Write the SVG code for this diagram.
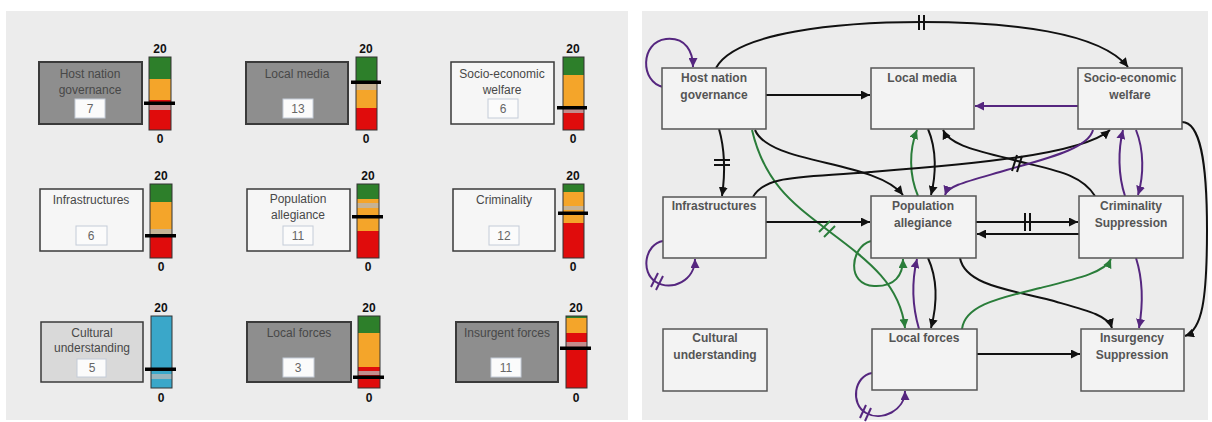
<svg xmlns="http://www.w3.org/2000/svg" width="1212" height="422" viewBox="0 0 1212 422">
<style>
.panel{fill:#ececec}
.lbl{font-family:"Liberation Sans",Arial,sans-serif;font-size:12px;fill:#484848;text-anchor:middle}
.val{font-family:"Liberation Sans",Arial,sans-serif;font-size:12px;fill:#666;text-anchor:middle}
.sc{font-family:"Liberation Sans",Arial,sans-serif;font-size:12px;font-weight:bold;fill:#111;text-anchor:middle}
.bl{font-family:"Liberation Sans",Arial,sans-serif;font-size:12px;font-weight:bold;fill:#555;text-anchor:middle}
.bxg{fill:#8e8e8e;stroke:#3a3a3a;stroke-width:2}
.bxw{fill:#f6f6f6;stroke:#3a3a3a;stroke-width:1.5}
.bxl{fill:#d9d9d9;stroke:#3a3a3a;stroke-width:1.5}
.vb{fill:#fbfbfb;stroke:#c4ccd8;stroke-width:1}
.g{fill:#2d7f2a}.o{fill:#f4a52a}.r{fill:#e00c0c}.b{fill:#3aa7c9}
.pale{fill:#b8b8b8;opacity:.75}
.frame{fill:none;stroke:#333;stroke-width:1}
.mk{fill:#000}
.node{fill:#f3f3f3;stroke:#555;stroke-width:1.5}
.k{fill:none;stroke:#111;stroke-width:2}
.p{fill:none;stroke:#55267f;stroke-width:2}
.gr{fill:none;stroke:#2a7d3a;stroke-width:2}
.bar{stroke-width:2}
</style>
<defs>
<marker id="ak" viewBox="0 0 10 10" refX="10" refY="5" markerWidth="9" markerHeight="9" markerUnits="userSpaceOnUse" orient="auto"><path d="M0,0 L10,5 L0,10 z" fill="#111"/></marker>
<marker id="ap" viewBox="0 0 10 10" refX="10" refY="5" markerWidth="9" markerHeight="9" markerUnits="userSpaceOnUse" orient="auto"><path d="M0,0 L10,5 L0,10 z" fill="#55267f"/></marker>
<marker id="ag" viewBox="0 0 10 10" refX="10" refY="5" markerWidth="9" markerHeight="9" markerUnits="userSpaceOnUse" orient="auto"><path d="M0,0 L10,5 L0,10 z" fill="#2a7d3a"/></marker>
</defs>
<rect width="1212" height="422" fill="#fff"/>
<rect class="panel" x="6" y="11" width="622" height="409"/>
<rect class="panel" x="642" y="11" width="566" height="409"/>

<!-- LEFT PANEL -->
<g id="l-host">
<rect class="bxg" x="39" y="62" width="103" height="62"/>
<text class="lbl" x="90" y="78">Host nation</text>
<text class="lbl" x="90" y="94">governance</text>
<rect class="vb" x="75" y="99" width="30" height="19"/>
<text class="val" x="90" y="113">7</text>
<text class="sc" x="160" y="53">20</text>
<rect class="g" x="149" y="57" width="22" height="22"/><rect class="o" x="149" y="79" width="22" height="21"/><rect class="r" x="149" y="100" width="22" height="30"/>
<rect class="pale" x="149" y="105" width="22" height="5"/>
<rect class="frame" x="149" y="57" width="22" height="73"/>
<rect class="mk" x="144" y="101.5" width="31" height="3.5"/>
<text class="sc" x="160" y="143">0</text>
</g>
<g id="l-media">
<rect class="bxg" x="246" y="62" width="102" height="62"/>
<text class="lbl" x="297" y="78">Local media</text>
<rect class="vb" x="283" y="99" width="30" height="19"/>
<text class="val" x="298" y="113">13</text>
<text class="sc" x="366" y="53">20</text>
<rect class="g" x="356" y="57" width="21" height="25"/><rect class="o" x="356" y="82" width="21" height="26"/><rect class="r" x="356" y="108" width="21" height="22"/>
<rect class="pale" x="356" y="84" width="21" height="6"/>
<rect class="frame" x="356" y="57" width="21" height="73"/>
<rect class="mk" x="351" y="80.5" width="30" height="3.5"/>
<text class="sc" x="366" y="143">0</text>
</g>
<g id="l-socio">
<rect class="bxw" x="451" y="62" width="103" height="62"/>
<text class="lbl" x="502" y="78">Socio-economic</text>
<text class="lbl" x="502" y="94">welfare</text>
<rect class="vb" x="488" y="99" width="30" height="19"/>
<text class="val" x="503" y="113">6</text>
<text class="sc" x="573" y="53">20</text>
<rect class="g" x="563" y="57" width="21" height="18"/><rect class="o" x="563" y="75" width="21" height="34"/><rect class="r" x="563" y="109" width="21" height="21"/>
<rect class="pale" x="563" y="109" width="21" height="4"/>
<rect class="frame" x="563" y="57" width="21" height="73"/>
<rect class="mk" x="557" y="106" width="30" height="3.5"/>
<text class="sc" x="573" y="143">0</text>
</g>
<g id="l-infra">
<rect class="bxw" x="40" y="189" width="103" height="62"/>
<text class="lbl" x="91" y="204">Infrastructures</text>
<rect class="vb" x="76" y="226" width="31" height="19"/>
<text class="val" x="91" y="240">6</text>
<text class="sc" x="161" y="180">20</text>
<rect class="g" x="150" y="184" width="22" height="18"/><rect class="o" x="150" y="202" width="22" height="34"/><rect class="r" x="150" y="236" width="22" height="22"/>
<rect class="pale" x="150" y="229" width="22" height="5"/>
<rect class="frame" x="150" y="184" width="22" height="74"/>
<rect class="mk" x="145" y="234" width="31" height="3.5"/>
<text class="sc" x="161" y="271">0</text>
</g>
<g id="l-pop">
<rect class="bxw" x="247" y="189" width="103" height="62"/>
<text class="lbl" x="298" y="203">Population</text>
<text class="lbl" x="298" y="219">allegiance</text>
<rect class="vb" x="283" y="226" width="30" height="19"/>
<text class="val" x="298" y="240">11</text>
<text class="sc" x="368" y="180">20</text>
<rect class="g" x="357" y="184" width="22" height="15"/><rect class="o" x="357" y="199" width="22" height="32"/><rect class="r" x="357" y="231" width="22" height="27"/>
<rect class="pale" x="357" y="203" width="22" height="5"/>
<rect class="frame" x="357" y="184" width="22" height="74"/>
<rect class="mk" x="352" y="215" width="31" height="3.5"/>
<text class="sc" x="368" y="271">0</text>
</g>
<g id="l-crim">
<rect class="bxw" x="453" y="189" width="102" height="62"/>
<text class="lbl" x="504" y="204">Criminality</text>
<rect class="vb" x="489" y="226" width="30" height="19"/>
<text class="val" x="504" y="240">12</text>
<text class="sc" x="573" y="180">20</text>
<rect class="g" x="563" y="184" width="21" height="8"/><rect class="o" x="563" y="192" width="21" height="31"/><rect class="r" x="563" y="223" width="21" height="35"/>
<rect class="pale" x="563" y="206" width="21" height="4"/>
<rect class="frame" x="563" y="184" width="21" height="74"/>
<rect class="mk" x="558" y="211.5" width="30" height="3.5"/>
<text class="sc" x="573" y="271">0</text>
</g>
<g id="l-cult">
<rect class="bxl" x="41" y="322" width="102" height="60"/>
<text class="lbl" x="92" y="337">Cultural</text>
<text class="lbl" x="92" y="352">understanding</text>
<rect class="vb" x="77" y="359" width="29" height="18"/>
<text class="val" x="92" y="372">5</text>
<text class="sc" x="161" y="312">20</text>
<rect class="b" x="151" y="316" width="21" height="72"/>
<rect class="pale" x="151" y="374" width="21" height="5"/>
<rect class="frame" x="151" y="316" width="21" height="72"/>
<rect class="mk" x="145" y="367.5" width="31" height="3.5"/>
<text class="sc" x="161" y="402">0</text>
</g>
<g id="l-lforces">
<rect class="bxg" x="247" y="322" width="104" height="60"/>
<text class="lbl" x="299" y="337">Local forces</text>
<rect class="vb" x="283" y="358" width="31" height="19"/>
<text class="val" x="298" y="372">3</text>
<text class="sc" x="369" y="312">20</text>
<rect class="g" x="358" y="316" width="22" height="17"/><rect class="o" x="358" y="333" width="22" height="34"/><rect class="r" x="358" y="367" width="22" height="21"/>
<rect class="pale" x="358" y="371" width="22" height="4"/>
<rect class="frame" x="358" y="316" width="22" height="72"/>
<rect class="mk" x="353" y="375.5" width="31" height="3.5"/>
<text class="sc" x="369" y="402">0</text>
</g>
<g id="l-insurg">
<rect class="bxg" x="456" y="322" width="102" height="60"/>
<text class="lbl" x="507" y="337">Insurgent forces</text>
<rect class="vb" x="491" y="358" width="30" height="19"/>
<text class="val" x="506" y="372">11</text>
<text class="sc" x="576" y="312">20</text>
<rect class="g" x="566" y="316" width="21" height="2"/><rect class="o" x="566" y="318" width="21" height="15"/><rect class="r" x="566" y="333" width="21" height="55"/>
<rect class="pale" x="566" y="342" width="21" height="5"/>
<rect class="frame" x="566" y="316" width="21" height="72"/>
<rect class="mk" x="560" y="346.5" width="31" height="3.5"/>
<text class="sc" x="576" y="402">0</text>
</g>

<!-- RIGHT PANEL CONNECTORS -->
<g id="connectors">
<path class="k" d="M716,68 C735,32 840,22 922,22 C1010,22 1100,32 1128,67" marker-end="url(#ak)"/>
<path class="p" d="M663,87 C640,82 640,42 666,39 C686,37 693,52 693,67" marker-end="url(#ap)"/>
<path class="k" d="M766,95 L870,95" marker-end="url(#ak)"/>
<path class="k" d="M719,129 C725,150 725,175 722,196" marker-end="url(#ak)"/>
<path class="k" d="M755,130 C770,165 875,160 903,195" marker-end="url(#ak)"/>
<path class="gr" d="M752,130 C765,185 795,205 830,232 C870,262 900,285 905,328" marker-end="url(#ag)"/>
<path class="gr" d="M871,241 C850,247 846,285 874,286 C895,287 903,275 903,259" marker-end="url(#ag)"/>
<path class="p" d="M919,329 C912,305 912,280 917,259" marker-end="url(#ap)"/>
<path class="k" d="M928,258 C938,280 937,305 931,328" marker-end="url(#ak)"/>
<path class="gr" d="M918,196 C909,175 909,150 917,130" marker-end="url(#ag)"/>
<path class="k" d="M928,129 C937,150 936,175 931,195" marker-end="url(#ak)"/>
<path class="p" d="M1078,106 L975,106" marker-end="url(#ap)"/>
<path class="k" d="M1095,196 C1080,172 1050,170 1010,159 C975,150 950,145 943,130" marker-end="url(#ak)"/>
<path class="k" d="M753,197 C765,175 800,178 870,172 C960,165 1080,156 1110,130" marker-end="url(#ak)"/>
<path class="p" d="M1093,130 C1088,150 1040,160 1000,172 C965,182 948,186 945,195" marker-end="url(#ap)"/>
<path class="p" d="M1125,196 C1118,175 1118,150 1123,130" marker-end="url(#ap)"/>
<path class="p" d="M1136,130 C1144,150 1144,175 1138,195" marker-end="url(#ap)"/>
<path class="k" d="M1182,122 C1200,122 1207,160 1207,230 C1207,300 1202,330 1185,336" marker-end="url(#ak)"/>
<path class="k" d="M766,222 L870,222" marker-end="url(#ak)"/>
<path class="k" d="M976,222 L1078,222" marker-end="url(#ak)"/>
<path class="k" d="M1079,234 L977,234" marker-end="url(#ak)"/>
<path class="p" d="M663,241 C645,244 640,272 656,282 C672,292 695,280 695,259" marker-end="url(#ap)"/>
<path class="p" d="M872,373 C854,376 850,404 866,413 C882,422 905,410 905,391" marker-end="url(#ap)"/>
<path class="k" d="M960,258 C965,285 1010,290 1050,300 C1085,310 1108,315 1112,328" marker-end="url(#ak)"/>
<path class="gr" d="M962,329 C965,305 1000,298 1040,288 C1080,278 1105,272 1111,259" marker-end="url(#ag)"/>
<path class="p" d="M1136,258 C1143,280 1143,305 1139,328" marker-end="url(#ap)"/>
<path class="k" d="M977,354 L1080,354" marker-end="url(#ak)"/>
<!-- delay bars -->
<g stroke="#111" class="bar">
<line x1="919" y1="15" x2="919" y2="30"/><line x1="924" y1="15" x2="924" y2="30"/>
<line x1="714" y1="160" x2="730" y2="160"/><line x1="714" y1="165" x2="730" y2="165"/>
<line x1="1025" y1="213" x2="1025" y2="231"/><line x1="1030" y1="213" x2="1030" y2="231"/>
<line x1="1012" y1="171" x2="1017" y2="155"/><line x1="1017" y1="172" x2="1022" y2="156"/>
</g>
<g stroke="#2a7d3a" class="bar">
<line x1="819" y1="232" x2="830" y2="221"/><line x1="824" y1="237" x2="835" y2="226"/>
</g>
<g stroke="#55267f" class="bar">
<line x1="651" y1="287" x2="658" y2="273"/><line x1="656" y1="290" x2="663" y2="276"/>
<line x1="860" y1="418" x2="866" y2="405"/><line x1="865" y1="421" x2="871" y2="408"/>
</g>
</g>

<!-- RIGHT PANEL NODES -->
<g id="r-host"><rect class="node" x="662" y="68" width="104" height="61"/><text class="bl" x="714" y="82">Host nation</text><text class="bl" x="714" y="99">governance</text></g>
<g id="r-media"><rect class="node" x="871" y="68" width="103" height="61"/><text class="bl" x="922" y="82">Local media</text></g>
<g id="r-socio"><rect class="node" x="1078" y="68" width="104" height="61"/><text class="bl" x="1130" y="82">Socio-economic</text><text class="bl" x="1130" y="99">welfare</text></g>
<g id="r-infra"><rect class="node" x="663" y="197" width="103" height="61"/><text class="bl" x="714" y="210">Infrastructures</text></g>
<g id="r-pop"><rect class="node" x="871" y="196" width="105" height="62"/><text class="bl" x="923" y="210">Population</text><text class="bl" x="923" y="227">allegiance</text></g>
<g id="r-crim"><rect class="node" x="1079" y="196" width="104" height="62"/><text class="bl" x="1131" y="210">Criminality</text><text class="bl" x="1131" y="227">Suppression</text></g>
<g id="r-cult"><rect class="node" x="663" y="329" width="104" height="62"/><text class="bl" x="715" y="342">Cultural</text><text class="bl" x="715" y="359">understanding</text></g>
<g id="r-lforces"><rect class="node" x="872" y="329" width="105" height="61"/><text class="bl" x="924" y="342">Local forces</text></g>
<g id="r-insurg"><rect class="node" x="1081" y="329" width="103" height="62"/><text class="bl" x="1132" y="342">Insurgency</text><text class="bl" x="1132" y="359">Suppression</text></g>
</svg>
